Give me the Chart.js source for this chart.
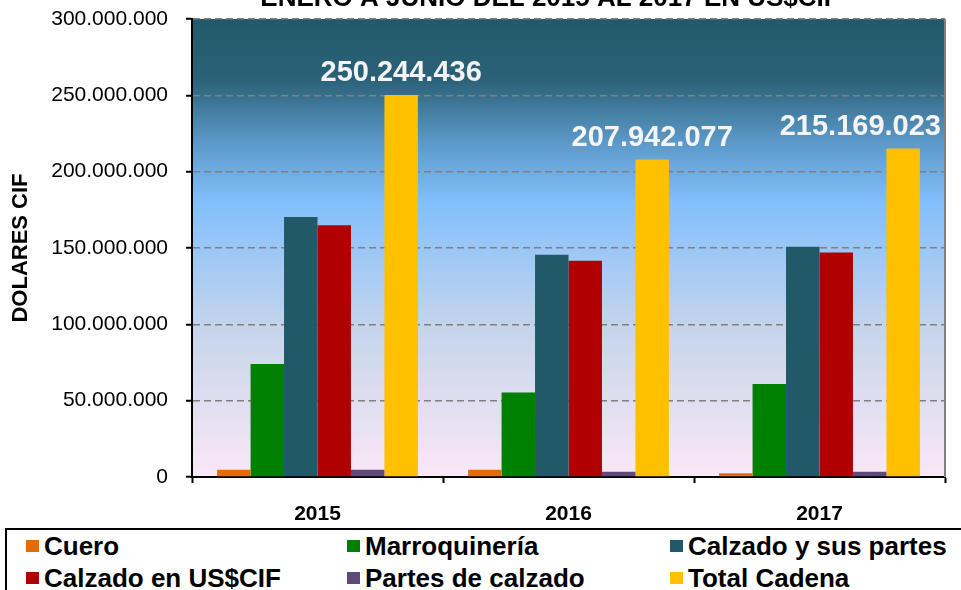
<!DOCTYPE html>
<html>
<head>
<meta charset="utf-8">
<script src="https://cdn.jsdelivr.net/npm/chart.js@4"></script>
<style>
  body { margin: 0; background: #fff; overflow: hidden; font-family: "Liberation Sans", Arial, sans-serif; }
  #wrap { position: absolute; left: 0; top: 0; width: 961px; height: 528px; }
  #legend {
    position: absolute; left: 5px; top: 528px; width: 980px; height: 80px;
    border: 2px solid #000; box-sizing: border-box;
    display: grid; grid-template-columns: 321px 323px 330px; grid-auto-rows: 32px;
    padding: 0 0 0 19px; align-content: start;
  }
  .item { font-weight: bold; font-size: 26px; line-height: 32px; color: #000; white-space: nowrap; }
  .sw { display: inline-block; width: 13px; height: 12px; margin-right: 5px; vertical-align: 3px; }
</style>
</head>
<body>
<div id="wrap"><canvas id="chart"></canvas></div>
<div id="legend"></div>

<script>
const years = ['2015', '2016', '2017'];
const cuero = [4800000, 4800000, 2400000];
const marroquineria = [74000000, 55400000, 60900000];
const calzadoPartes = [170300000, 145600000, 150900000];
const calzadoCif = [164900000, 141700000, 147000000];
const partesCalzado = [4800000, 3500000, 3500000];
const totalCadena = [250244436, 207942077, 215169023];

const seriesNames = ['Cuero', 'Marroquinería', 'Calzado y sus partes', 'Calzado en US$CIF', 'Partes de calzado', 'Total Cadena'];
const seriesColors = ['#E36C0A', '#008000', '#215968', '#B00000', '#604A7B', '#FFC000'];
const seriesData = [cuero, marroquineria, calzadoPartes, calzadoCif, partesCalzado, totalCadena];
const yTicks = [0, 50000000, 100000000, 150000000, 200000000, 250000000, 300000000];

const titleText = 'ENERO A JUNIO DEL 2015 AL 2017 EN US$CIF';

function dots(v) {
    return String(Math.round(v)).replace(/\B(?=(\d{3})+(?!\d))/g, '.');
}

// background of the plot, labels over the totals, title cut at the top
const extras = {
    id: 'extras',
    beforeDraw(chart) {
        const { ctx, chartArea: a } = chart;
        const g = ctx.createLinearGradient(0, a.top, 0, a.bottom);
        g.addColorStop(0, '#225a6a');
        g.addColorStop(0.13, '#2a6177');
        g.addColorStop(0.27, '#5c99c9');
        g.addColorStop(0.4, '#82bffc');
        g.addColorStop(0.68, '#c6d5eb');
        g.addColorStop(1, '#fae8f6');
        ctx.save();
        ctx.fillStyle = g;
        ctx.fillRect(a.left, a.top, a.right - a.left, a.bottom - a.top);
        ctx.restore();
    },
    afterDraw(chart) {
        const { ctx, chartArea: a } = chart;
        ctx.save();
        ctx.strokeStyle = '#808080';
        ctx.lineWidth = 2;
        ctx.beginPath();
        ctx.moveTo(a.right, a.top);
        ctx.lineTo(a.right, a.bottom);
        ctx.stroke();

        ctx.fillStyle = '#000';
        ctx.font = 'bold 26px "Liberation Sans", Arial';
        ctx.textAlign = 'center';
        ctx.textBaseline = 'alphabetic';
        ctx.fillText(titleText, 550, 6);

        const meta = chart.getDatasetMeta(seriesData.length - 1);
        ctx.font = 'bold 29px "Liberation Sans", Arial';
        ctx.fillStyle = '#f4f4f4';
        meta.data.forEach((bar, i) => {
            const txt = dots(totalCadena[i]);
            const w = ctx.measureText(txt).width;
            let x = bar.x;
            if (x + w / 2 > a.right - 4) x = a.right - 4 - w / 2;
            ctx.fillText(txt, x, bar.y - 14);
        });
        ctx.restore();
    }
};

new Chart(document.getElementById('chart'), {
    type: 'bar',
    data: {
        labels: years,
        datasets: seriesNames.map((name, i) => ({
            label: name,
            data: seriesData[i],
            backgroundColor: seriesColors[i],
            borderWidth: 0,
            categoryPercentage: 0.8,
            barPercentage: 1.0
        }))
    },
    options: {
        responsive: true,
        maintainAspectRatio: false,
        animation: false,
        layout: { padding: { top: 19, right: 16, left: 0, bottom: 0 } },
        plugins: {
            legend: { display: false },
            tooltip: { enabled: false }
        },
        scales: {
            x: {
                afterFit: (s) => { s.height = 51; },
                grid: { drawOnChartArea: false, drawTicks: true, tickLength: 6, tickColor: '#000', tickWidth: 2 },
                border: { color: '#000', width: 2 },
                ticks: { color: '#000', font: { family: '"Liberation Sans", Arial', size: 21, weight: 'bold' }, padding: 19 }
            },
            y: {
                min: 0,
                max: 300000000,
                afterFit: (s) => { s.width = 192; s.paddingTop = 0; s.paddingBottom = 0; },
                afterBuildTicks: (s) => { s.ticks = yTicks.map(v => ({ value: v })); },
                grid: {
                    color: '#808080', lineWidth: 1.5,
                    drawTicks: true, tickLength: 6, tickColor: '#000', tickWidth: 2, tickBorderDash: []
                },
                border: { color: '#000', width: 2, dash: [7, 4] },
                ticks: {
                    color: '#000',
                    font: { family: '"Liberation Sans", Arial', size: 21 },
                    padding: 18,
                    callback: (v) => dots(v)
                },
                title: {
                    display: true,
                    text: 'DOLARES CIF',
                    color: '#000',
                    font: { family: '"Liberation Sans", Arial', size: 22, weight: 'bold' },
                    padding: { top: 8, bottom: 0 }
                }
            }
        }
    },
    plugins: [extras]
});

const legend = document.getElementById('legend');
seriesNames.forEach((name, i) => {
    const el = document.createElement('div');
    el.className = 'item';
    el.innerHTML = '<span class="sw" style="background:' + seriesColors[i] + '"></span>' + name;
    legend.appendChild(el);
});
</script>
</body>
</html>
